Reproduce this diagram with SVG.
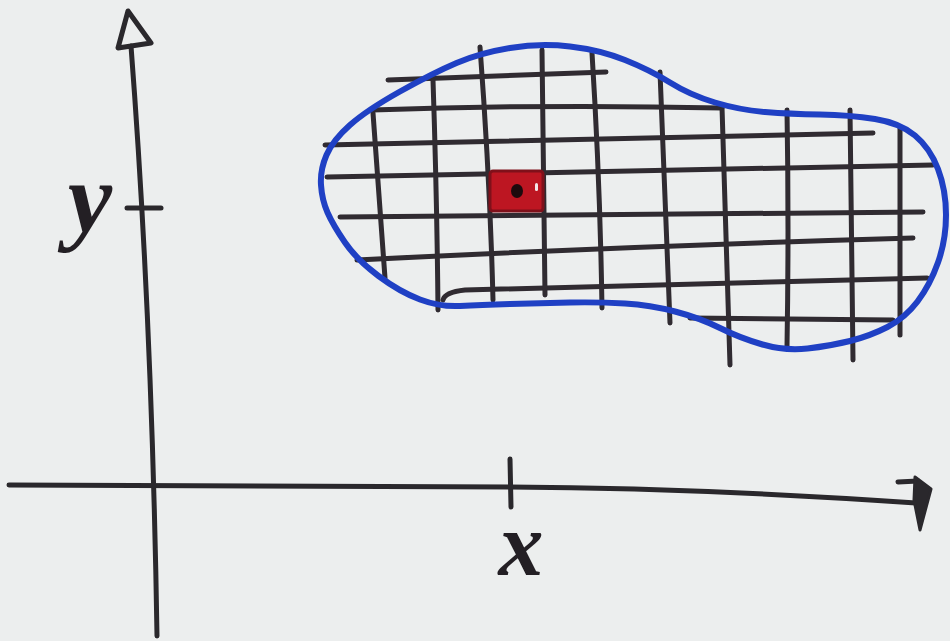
<svg xmlns="http://www.w3.org/2000/svg" width="950" height="641" viewBox="0 0 950 641">
<style>
.ax{fill:none;stroke:#2a282c;stroke-width:5;stroke-linecap:round;stroke-linejoin:round}
.g{fill:none;stroke:#302b31;stroke-width:5;stroke-linecap:round}
.lbl{font-family:"Liberation Serif",serif;font-style:italic;font-weight:bold;fill:#231f24}
</style>
<rect width="950" height="641" fill="#eceeee"/>
<g id="y-axis">
<path class="ax" d="M131,46 Q152,320 157,636"/>
<polygon class="ax" points="128,11 151,43 118,48"/>
<path class="ax" stroke-width="7" d="M127,208 L161,208"/>
<text class="lbl" x="90" y="232" font-size="100" text-anchor="middle">y</text>
</g>
<g id="x-axis">
<path class="ax" stroke-width="6" d="M9,485 L510,487 Q700,488 916,503"/>
<path class="ax" stroke-width="6" d="M510,459 L511,507"/>
<path class="ax" stroke-width="7" d="M898,482 L918,481"/>
<polygon fill="#2a282c" stroke="#2a282c" stroke-width="3" stroke-linejoin="round" points="915,477 931,489 920,530 914,500"/>
<text class="lbl" x="521" y="575" font-size="90" text-anchor="middle">x</text>
</g>
<g id="grid">
<path class="g" d="M388,80 L606,72"/>
<path class="g" d="M372,110 Q550,104 722,108"/>
<path class="g" d="M325,145 L873,133"/>
<path class="g" d="M327,177 L933,165"/>
<path class="g" d="M340,217 L923,212"/>
<path class="g" d="M357,260 Q630,246 913,238"/>
<path class="g" d="M443,300 Q445,292 465,290 L927,278"/>
<path class="g" d="M690,318 L893,320"/>
<path class="g" d="M373,113 L385,278"/>
<path class="g" d="M433,80 Q437,200 438,310"/>
<path class="g" d="M480,47 Q490,180 493,300"/>
<path class="g" d="M542,50 L545,295"/>
<path class="g" d="M592,53 Q600,180 602,308"/>
<path class="g" d="M660,72 L670,323"/>
<path class="g" d="M722,107 L730,365"/>
<path class="g" d="M787,110 Q789,230 787,347"/>
<path class="g" d="M850,110 L853,360"/>
<path class="g" d="M900,127 L900,335"/>
</g>
<g id="region">
<path fill="none" stroke="#1f40c4" stroke-width="6" stroke-linejoin="round" d="M327.5,212.5 Q322,200 321,185 Q320,170 326.5,155 Q333,140 350,125 Q367,110 400,91.5 Q433,73 456.5,63 Q480,53 510,48 Q540,43 570,46.5 Q600,50 625,60 Q650,70 670,82.5 Q690,95 715,102.5 Q740,110 765,112 Q790,114 820,114.5 Q850,115 875,119 Q900,123 915,135.5 Q930,148 938,169 Q946,190 946,215 Q946,240 938,262.5 Q930,285 917.5,301.5 Q905,318 887.5,327 Q870,336 850,341 Q830,346 807.5,348.5 Q785,351 762.5,344.5 Q740,338 720,328 Q700,318 675,311.5 Q650,305 625,303.5 Q600,302 570,302.5 Q540,303 510,304 Q480,305 460,306 Q440,307 420,299.5 Q400,292 378.5,276 Q357,260 345,242.5 Q333,225 327.5,212.5 Z"/>
</g>
<g id="cell">
<rect x="490" y="171" width="53" height="40" rx="3" fill="#bd1622" stroke="#80101a" stroke-width="3"/>
<ellipse cx="517" cy="191" rx="6" ry="7" fill="#1c0a0d"/>
<rect x="535" y="183" width="3" height="8" rx="1.5" fill="#f4e6e8"/>
</g>
</svg>
